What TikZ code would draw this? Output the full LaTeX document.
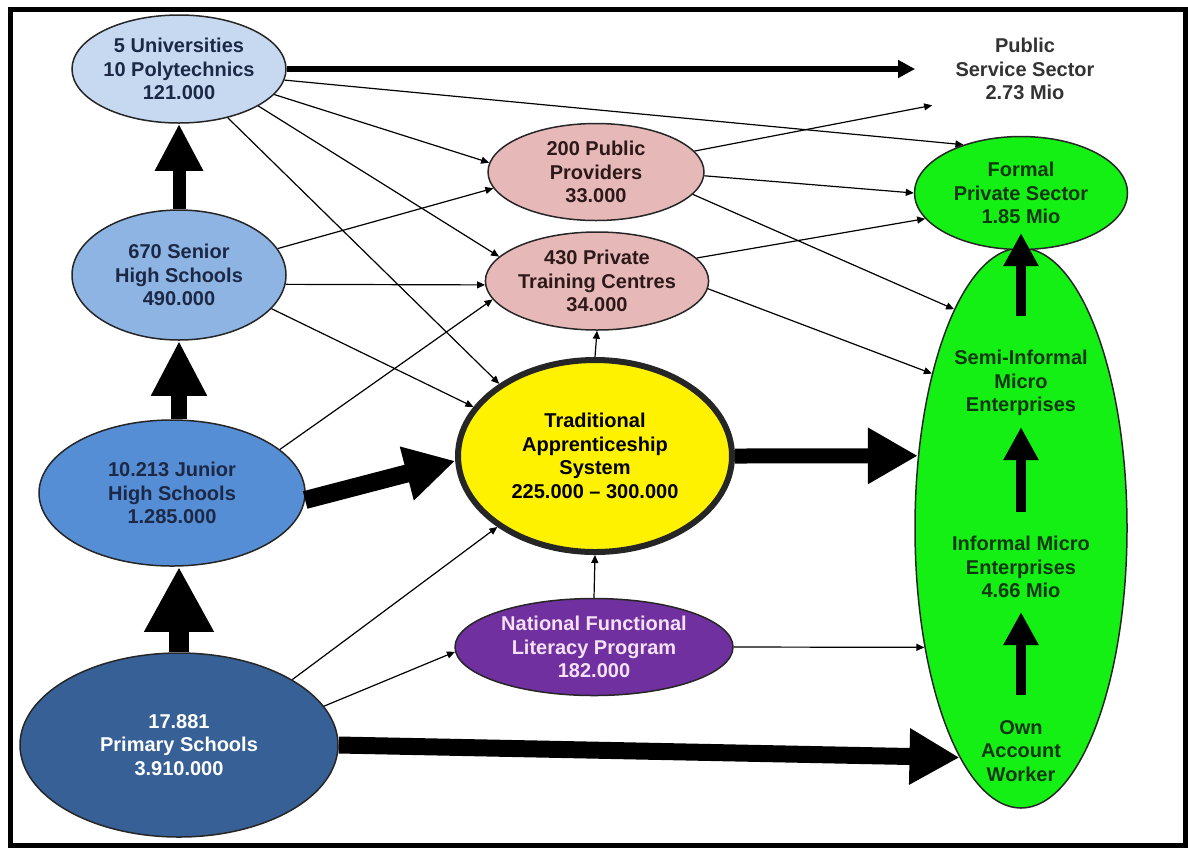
\documentclass[tikz,border=0pt]{standalone}
\usepackage{fontspec}
\setmainfont{Liberation Sans}
\usetikzlibrary{shapes.geometric,arrows.meta}
\definecolor{uniblue}{RGB}{198,217,241}
\definecolor{shsblue}{RGB}{141,180,226}
\definecolor{jhsblue}{RGB}{85,142,213}
\definecolor{primblue}{RGB}{55,96,150}
\definecolor{navytext}{RGB}{28,40,70}
\definecolor{rosefill}{RGB}{230,185,184}
\definecolor{rosetext}{RGB}{45,25,25}
\definecolor{litpurple}{RGB}{112,48,160}
\definecolor{litpink}{RGB}{245,225,245}
\definecolor{limefill}{RGB}{20,240,20}
\definecolor{limetext}{RGB}{15,55,15}
\begin{document}
\begin{tikzpicture}[x=0.5pt,y=-0.5pt,
    lbl/.style={font=\bfseries\fontsize{10}{11.8}\selectfont,align=center},
    blob/.style={ellipse,lbl,draw=black!85,line width=0.75pt,inner sep=0pt},
    feed/.style={-{Triangle[length=4pt,width=3.5pt]},line width=0.6pt},
    block/.style n args={3}{line width=#1,-{Triangle[length=#2,width=#3]}}]
  \useasboundingbox (0,0) rectangle (1188,848);
  \draw[line width=2.5pt] (10,9) rectangle (1185,845);
  % schools, providers and sectors
  \draw
    (179,69) node[blob,fill=uniblue,text=navytext,minimum width=107pt,minimum height=54pt] (univ)
      {5 Universities\\10 Polytechnics\\121.000}
    (179,275) node[blob,fill=shsblue,text=navytext,minimum width=107pt,minimum height=65pt] (senior)
      {670 Senior\\High Schools\\490.000}
    (172,493) node[blob,fill=jhsblue,text=navytext,minimum width=133pt,minimum height=73pt] (junior)
      {10.213 Junior\\High Schools\\1.285.000}
    (179,745) node[blob,fill=primblue,text=white,minimum width=159pt,minimum height=92pt] (primary)
      {17.881\\Primary Schools\\3.910.000}
    (596,172) node[blob,fill=rosefill,text=rosetext,minimum width=108pt,minimum height=48.5pt] (pubprov)
      {200 Public\\Providers\\33.000}
    (597,281) node[blob,fill=rosefill,text=rosetext,minimum width=108pt,minimum height=49pt] (privtrain)
      {430 Private\\Training Centres\\34.000}
    (595,456) node[blob,fill=yellow,text=black,line width=3pt,minimum width=137pt,minimum height=96pt] (trad)
      {Traditional\\Apprenticeship\\System\\225.000 – 300.000}
    (594,647) node[blob,fill=litpurple,text=litpink,minimum width=139pt,minimum height=48.5pt] (nfl)
      {National Functional\\Literacy Program\\182.000}
    (1021,528) node[blob,fill=limefill,minimum width=106pt,minimum height=280pt] (green) {}
    (1021,193) node[blob,fill=limefill,text=limetext,minimum width=106.5pt,minimum height=56.5pt] (formal)
      {Formal\\Private Sector\\1.85 Mio}
    (1025,69) node[lbl,text=black!80,inner xsep=20pt,inner ysep=2.5pt] (pubserv)
      {Public\\Service Sector\\2.73 Mio}
    (1021,383) node[lbl,text=limetext] (semi) {Semi-Informal\\Micro\\Enterprises}
    (1021,567) node[lbl,text=limetext] (informal) {Informal Micro\\Enterprises\\4.66 Mio}
    (1021,751) node[lbl,text=limetext] (own) {Own\\Account\\Worker};
  \begin{scope}[feed]
    \draw (univ.-6) to (formal.140);
    \draw (univ.-15) to (pubprov.175);
    \draw (univ.-25) to (privtrain.166);
    \draw (univ.-45) to (trad.143);
    \draw (senior.15) to (pubprov.-171);
    \draw (senior.-5) to (privtrain.-178);
    \draw (senior.-20) to (trad.158);
    \draw (junior.22) to (privtrain.-170);
    \draw (primary.30) to (trad.-144);
    \draw (primary.15) to (nfl.-178);
    \draw (trad.north) to (privtrain.south);
    \draw (nfl.north) to (trad.south);
    \draw (nfl.east) to (green.231);
    \draw (pubprov.12) to ([xshift=8.5pt]pubserv.south west);
    \draw (pubprov.-2) to (formal.180);
    \draw (pubprov.-13) to (green.107);
    \draw (privtrain.13) to (formal.-165);
    \draw (privtrain.-4) to (green.120);
  \end{scope}
  \draw[block={3pt}{8.5pt}{8.5pt}] (univ.east) to (pubserv.west);
  \draw[block={6.5pt}{23.5pt}{22.5pt}] (senior.north) to (univ.south);
  \draw[block={8pt}{27.5pt}{26pt}] (senior.south |- junior.north) to (senior.south);
  \draw[block={10pt}{32.5pt}{32.5pt}] (primary.north) to (primary.north |- junior.south);
  \draw[block={9pt}{25pt}{26pt}] (junior.-3) to (trad.182);
  \draw[block={7.5pt}{25pt}{26.5pt}] (trad.east) to (green.145);
  \draw[block={8.5pt}{25pt}{26.5pt}] (primary.0) to (green.255);
  \begin{scope}[block={5pt}{16.5pt}{16.5pt}]
    \draw[shorten <=33.5pt,shorten >=20pt] (semi.center) to (formal.center);
    \draw[shorten <=27.5pt,shorten >=22pt] (informal.center) to (semi.center);
    \draw[shorten <=28pt,shorten >=22.5pt] (own.center) to (informal.center);
  \end{scope}
\end{tikzpicture}
\end{document}
